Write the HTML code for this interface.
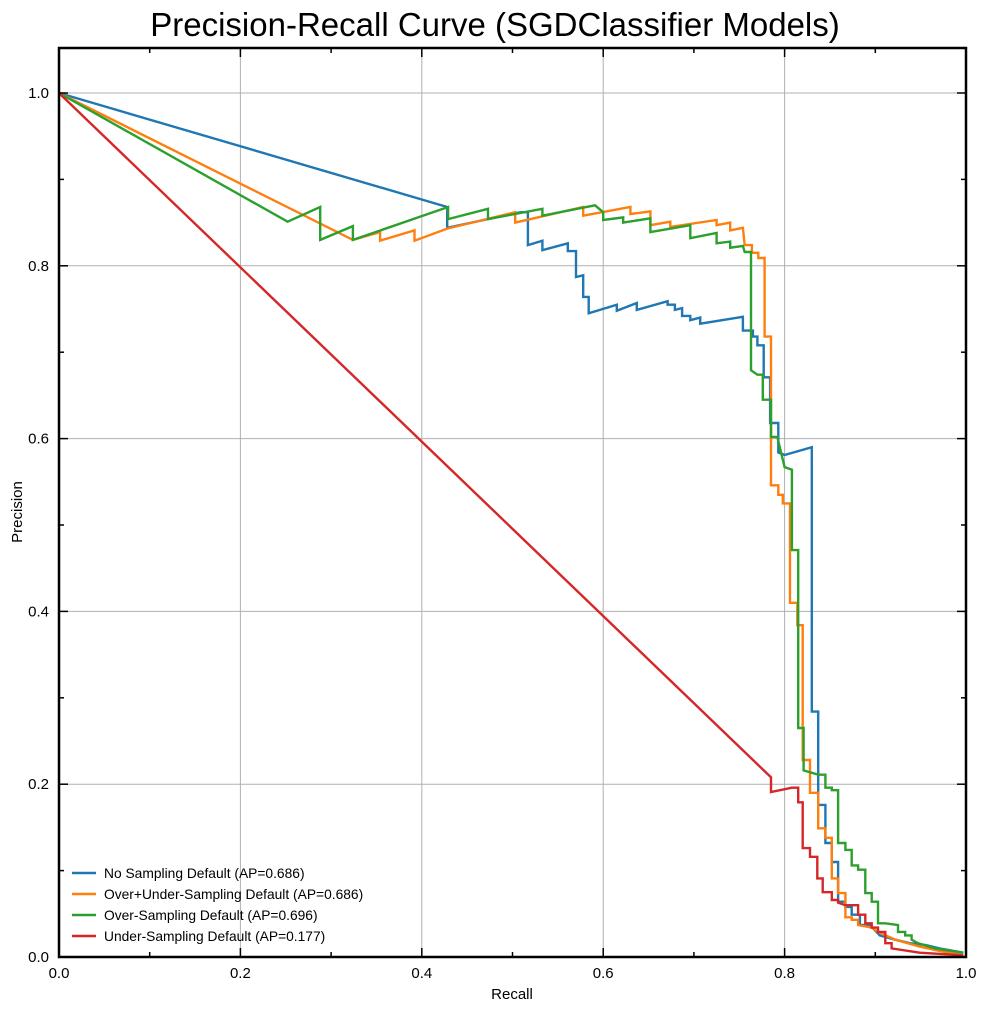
<!DOCTYPE html>
<html><head><meta charset="utf-8"><style>
body{margin:0;background:#fff;}
svg{display:block;font-family:"Liberation Sans",sans-serif;}
</style></head><body>
<svg id="chart" width="987" height="1011">
<text x="495" y="36" font-size="33" text-anchor="middle">Precision-Recall Curve (SGDClassifier Models)</text>
<g id="grid"></g><g id="series"></g><g id="ticks"></g>
<rect x="59" y="48" width="907" height="909" fill="none" stroke="#000" stroke-width="2.5"/>
<text x="512" y="999" font-size="15" text-anchor="middle">Recall</text>
<text x="22" y="512" font-size="15" text-anchor="middle" transform="rotate(-90 22 512)">Precision</text>
<g id="legend"></g>
</svg>
<script>
const xTicks=[0,0.2,0.4,0.6,0.8,1.0];
const yTicks=[0,0.2,0.4,0.6,0.8,1.0];
const tickLabels=["0.0","0.2","0.4","0.6","0.8","1.0"];
const seriesNames=["No Sampling Default (AP=0.686)","Over+Under-Sampling Default (AP=0.686)","Over-Sampling Default (AP=0.696)","Under-Sampling Default (AP=0.177)"];
const colors=["#1f77b4","#ff7f0e","#2ca02c","#d62728"];
const blueR=[0,0.428,0.428,0.509,0.517,0.517,0.533,0.533,0.561,0.561,0.570,0.570,0.578,0.578,0.584,0.584,0.615,0.615,0.637,0.637,0.671,0.671,0.679,0.679,0.687,0.687,0.696,0.696,0.707,0.707,0.754,0.754,0.765,0.765,0.770,0.770,0.777,0.777,0.784,0.784,0.793,0.793,0.800,0.830,0.830,0.837,0.837,0.845,0.845,0.852,0.852,0.859,0.859,0.867,0.867,0.874,0.874,0.883,0.883,0.894,0.905,0.922,0.938,0.955,0.971,0.997];
const blueP=[1.0,0.868,0.844,0.862,0.862,0.824,0.829,0.818,0.826,0.817,0.817,0.787,0.789,0.764,0.764,0.745,0.755,0.748,0.757,0.749,0.759,0.755,0.755,0.749,0.751,0.742,0.742,0.737,0.740,0.733,0.741,0.725,0.725,0.718,0.718,0.708,0.708,0.671,0.671,0.618,0.618,0.584,0.581,0.590,0.284,0.284,0.176,0.176,0.132,0.132,0.110,0.110,0.064,0.064,0.058,0.058,0.049,0.049,0.037,0.037,0.025,0.020,0.016,0.014,0.010,0.005];
const orangeR=[0,0.324,0.354,0.354,0.392,0.392,0.428,0.503,0.503,0.578,0.578,0.630,0.630,0.652,0.652,0.674,0.674,0.725,0.725,0.740,0.740,0.754,0.756,0.764,0.764,0.771,0.771,0.778,0.778,0.785,0.785,0.793,0.793,0.798,0.798,0.806,0.806,0.814,0.814,0.820,0.820,0.828,0.828,0.837,0.837,0.845,0.845,0.852,0.852,0.859,0.859,0.867,0.867,0.874,0.874,0.881,0.881,0.896,0.903,0.922,0.949,0.971,0.997];
const orangeP=[1.0,0.830,0.839,0.829,0.841,0.829,0.843,0.862,0.850,0.868,0.858,0.868,0.860,0.863,0.847,0.851,0.845,0.853,0.847,0.850,0.841,0.844,0.824,0.824,0.815,0.815,0.809,0.809,0.718,0.718,0.546,0.546,0.535,0.535,0.525,0.525,0.410,0.410,0.384,0.384,0.228,0.228,0.190,0.190,0.149,0.149,0.138,0.138,0.091,0.091,0.074,0.074,0.046,0.046,0.043,0.043,0.037,0.034,0.029,0.020,0.012,0.007,0.002];
const greenR=[0,0.252,0.288,0.288,0.324,0.324,0.429,0.429,0.473,0.473,0.533,0.533,0.591,0.600,0.600,0.622,0.622,0.652,0.652,0.696,0.696,0.725,0.725,0.740,0.740,0.754,0.756,0.763,0.763,0.770,0.770,0.776,0.776,0.785,0.785,0.792,0.800,0.808,0.808,0.815,0.815,0.821,0.821,0.837,0.837,0.845,0.845,0.852,0.852,0.859,0.859,0.867,0.867,0.874,0.874,0.881,0.881,0.889,0.889,0.896,0.896,0.903,0.903,0.911,0.925,0.925,0.933,0.933,0.940,0.940,0.947,0.966,0.997];
const greenP=[1.0,0.851,0.868,0.830,0.846,0.830,0.868,0.854,0.866,0.854,0.866,0.858,0.870,0.862,0.853,0.856,0.850,0.855,0.839,0.847,0.832,0.838,0.826,0.828,0.821,0.823,0.816,0.816,0.679,0.674,0.674,0.674,0.645,0.645,0.602,0.602,0.567,0.564,0.471,0.471,0.265,0.265,0.216,0.211,0.211,0.211,0.196,0.196,0.193,0.193,0.132,0.132,0.124,0.124,0.106,0.106,0.101,0.101,0.074,0.074,0.064,0.064,0.039,0.039,0.037,0.029,0.029,0.025,0.025,0.020,0.016,0.010,0.005];
const redR=[0,0.785,0.785,0.808,0.815,0.815,0.820,0.820,0.828,0.828,0.836,0.836,0.842,0.842,0.852,0.852,0.859,0.859,0.867,0.881,0.881,0.889,0.889,0.896,0.896,0.903,0.903,0.911,0.911,0.918,0.918,0.949,0.997];
const redP=[1.0,0.208,0.191,0.196,0.196,0.179,0.179,0.126,0.126,0.116,0.116,0.091,0.091,0.075,0.075,0.066,0.066,0.063,0.060,0.060,0.049,0.049,0.039,0.039,0.034,0.034,0.029,0.029,0.016,0.016,0.010,0.005,0.002];
const allR=[blueR,orangeR,greenR,redR], allP=[blueP,orangeP,greenP,redP];
const NS="http://www.w3.org/2000/svg";
const X0=59,X1=966,Y0=957,YS=864;
function sx(v){return X0+v*(X1-X0);}
function sy(v){return Y0-v*YS;}
function mk(tag,attrs,parent){const e=document.createElementNS(NS,tag);for(const k in attrs)e.setAttribute(k,attrs[k]);parent.appendChild(e);return e;}
const grid=document.getElementById('grid'),ticks=document.getElementById('ticks'),ser=document.getElementById('series'),leg=document.getElementById('legend');
xTicks.forEach((t,i)=>{
  const g=mk('line',{x1:sx(t),x2:sx(t),y1:48,y2:957,stroke:'#b0b0b0','stroke-width':1},grid);
  
  
  const tx=mk('text',{x:sx(t),y:978,'font-size':15,'text-anchor':'middle'},ticks);
  tx.textContent=tickLabels[i];
  
  
});
yTicks.forEach((t,i)=>{
  const g=mk('line',{x1:59,x2:966,y1:sy(t),y2:sy(t),stroke:'#b0b0b0','stroke-width':1},grid);
  
  
  const tx=mk('text',{x:49,y:sy(t)+5,'font-size':15,'text-anchor':'end'},ticks);
  tx.textContent=tickLabels[i];
  
  
});
for(let k=0;k<=10;k++){
  const v=k/10,len=(k%2==0)?9:5;
  [[sx(v),957,sx(v),957-len],[sx(v),48,sx(v),48+len],[59,sy(v),59+len,sy(v)],[966,sy(v),966-len,sy(v)]].forEach(c=>{
    const l=mk('line',{x1:c[0],y1:c[1],x2:c[2],y2:c[3],stroke:'#000','stroke-width':1.5},ticks);
    
    
  });
}
allR.forEach((R,s)=>{
  const pts=R.map((r,i)=>sx(r).toFixed(1)+','+sy(allP[s][i]).toFixed(1)).join(' ');
  const pl=mk('polyline',{points:pts,fill:'none',stroke:colors[s],'stroke-width':2.4,'stroke-linejoin':'miter'},ser);
  
  
});
seriesNames.forEach((n,i)=>{
  const y=873+i*21;
  const l=mk('line',{x1:72,x2:96,y1:y,y2:y,stroke:colors[i],'stroke-width':2.4},leg);
  
  
  const t=mk('text',{x:104,y:y+5,'font-size':13.8},leg);
  t.textContent=n;
  
  
});
</script>
</body></html>
